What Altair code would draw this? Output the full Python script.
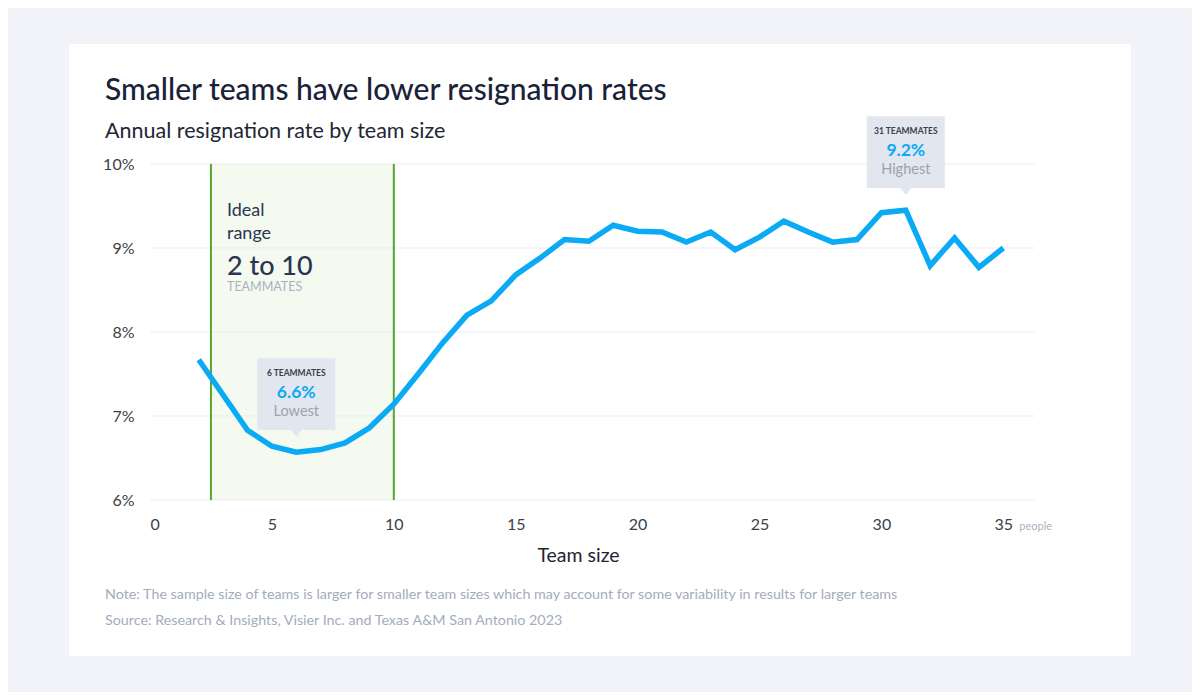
import altair as alt
import pandas as pd

# ---- data ----
team_size = list(range(2, 36))
resign_rate = [7.67, 7.25, 6.83, 6.64, 6.57, 6.60, 6.68, 6.86, 7.14, 7.50, 7.87, 8.20,
               8.37, 8.68, 8.88, 9.10, 9.08, 9.27, 9.20, 9.19, 9.07, 9.19, 8.98, 9.13,
               9.32, 9.19, 9.07, 9.10, 9.42, 9.45, 8.79, 9.12, 8.77, 9.00]
ideal_start, ideal_end = 2.5, 10
x_ticks = [0, 5, 10, 15, 20, 25, 30, 35]
y_ticks = [6, 7, 8, 9, 10]
callout_size = [6, 31]
callout_rate = [6.57, 9.45]
callout_head = ["6 TEAMMATES", "31 TEAMMATES"]
callout_value = ["6.6%", "9.2%"]
callout_word = ["Lowest", "Highest"]
ideal_lines = ["Ideal", "range", "2 to 10", "TEAMMATES"]
title_text = "Smaller teams have lower resignation rates"
subtitle_text = "Annual resignation rate by team size"
notes = ["Note: The sample size of teams is larger for smaller team sizes which may account for some variability in results for larger teams",
         "Source: Research & Insights, Visier Inc. and Texas A&M San Antonio 2023"]

W, H = 885, 336
FONT = "Lato"
BLUE = "#0aaaf5"
GREEN = "#56a630"

line_df = pd.DataFrame({"size": team_size, "rate": resign_rate})
band_df = pd.DataFrame({"start": [ideal_start], "end": [ideal_end]})
edge_df = pd.DataFrame({"edge": [ideal_start, ideal_end]})
grid_df = pd.DataFrame({"g": y_ticks})
call_df = pd.DataFrame({"size": callout_size, "rate": callout_rate, "head": callout_head,
                        "value": callout_value, "word": callout_word})

xs = alt.Scale(domain=[0, 36.3], nice=False, zero=False)
ys = alt.Scale(domain=[6, 10], nice=False, zero=False)


def label(text, x, y, **kw):
    return alt.Chart(pd.DataFrame({"t": [text]})).mark_text(
        font=FONT, align="left", **kw).encode(x=alt.value(x), y=alt.value(y), text="t:N")


card = alt.Chart(pd.DataFrame({"a": [0]})).mark_rect(color="white").encode(
    x=alt.value(-81), x2=alt.value(981), y=alt.value(-120), y2=alt.value(492))

band = alt.Chart(band_df).mark_rect(color="#f4faf0").encode(
    x=alt.X("start:Q", scale=xs), x2="end:Q", y=alt.value(0), y2=alt.value(H))

grid = alt.Chart(grid_df).mark_rule(color="#e9edf2", strokeWidth=1).encode(
    y=alt.Y("g:Q", scale=ys), x=alt.value(0), x2=alt.value(W))

base_axes = alt.Chart(line_df).mark_line(opacity=0).encode(
    x=alt.X("size:Q", scale=xs,
            axis=alt.Axis(values=x_ticks, grid=False, domain=False, ticks=False, zindex=1,
                          labelFont=FONT, labelFontSize=16, labelColor="#3a3f4a",
                          labelPadding=16, title="Team size", titleFont=FONT,
                          titleFontSize=19.5, titleFontWeight="normal", titleColor="#1f2433",
                          titleX=428, titleY=46)),
    y=alt.Y("rate:Q", scale=ys,
            axis=alt.Axis(values=y_ticks, grid=False, domain=False, zindex=1,
                          ticks=False, labelFont=FONT, labelFontSize=16,
                          labelColor="#3a3f4a", labelPadding=16, title=None,
                          labelExpr="datum.value + '%'")))

edges = alt.Chart(edge_df).mark_rule(color=GREEN, strokeWidth=2).encode(
    x=alt.X("edge:Q", scale=xs), y=alt.value(0), y2=alt.value(H))

line = alt.Chart(line_df).mark_line(color=BLUE, strokeWidth=5.5, strokeJoin="miter").encode(
    x=alt.X("size:Q", scale=xs), y=alt.Y("rate:Q", scale=ys))

box_shape = "M-1,-0.92H1V0.92H0.14L0,1.1L-0.14,0.92H-1Z"
boxes = alt.Chart(call_df).mark_point(shape=box_shape, filled=True, size=6084,
                                      color="#e2e7ef", opacity=1).encode(
    x=alt.X("size:Q", scale=xs), y=alt.Y("rate:Q", scale=ys), yOffset=alt.value(-58))

heads = alt.Chart(call_df).mark_text(font=FONT, fontSize=8.5, fontWeight="bold",
                                     color="#3a3f4a", dy=-79).encode(
    x=alt.X("size:Q", scale=xs), y=alt.Y("rate:Q", scale=ys), text="head:N")
values = alt.Chart(call_df).mark_text(font=FONT, fontSize=17.5, fontWeight="bold",
                                      color=BLUE, dy=-59).encode(
    x=alt.X("size:Q", scale=xs), y=alt.Y("rate:Q", scale=ys), text="value:N")
words = alt.Chart(call_df).mark_text(font=FONT, fontSize=14.5, color="#9aa2b0", dy=-40).encode(
    x=alt.X("size:Q", scale=xs), y=alt.Y("rate:Q", scale=ys), text="word:N")

ideal_y = [47, 70, 103, 123]
ideal_fs = [18, 18, 27, 12.5]
ideal_c = ["#2b3550", "#2b3550", "#2b3550", "#aab2c0"]
ideal_w = [400, 400, 500, 400]
ideal_txt = [label(t, 77, yy, fontSize=fs, color=c, baseline="middle", fontWeight=w)
             for t, yy, fs, c, w in zip(ideal_lines, ideal_y, ideal_fs, ideal_c, ideal_w)]

people = alt.Chart(pd.DataFrame({"s": [35], "t": ["people"]})).mark_text(
    font=FONT, fontSize=11, color="#aab2c0", align="left", baseline="middle", dx=16).encode(
    x=alt.X("s:Q", scale=xs), y=alt.value(H + 27), text="t:N")

title = label(title_text, -45, -64, fontSize=30, fontWeight=500, color="#1a2238",
              baseline="alphabetic")
subtitle = label(subtitle_text, -45, -26, fontSize=21.5, color="#222633",
                 baseline="alphabetic")
note1 = label(notes[0], -45, 431, fontSize=14.3, color="#a3acbd", baseline="middle")
note2 = label(notes[1], -45, 457, fontSize=14.3, color="#a3acbd", baseline="middle")

chart = alt.layer(card, band, grid, base_axes, edges, line, boxes, heads, values, words,
                  *ideal_txt, people, title, subtitle, note1, note2).properties(
    width=W, height=H,
    autosize=alt.AutoSizeParams(type="none"),
    padding={"left": 142, "top": 156, "right": 157, "bottom": 192},
    background="#f2f3f8",
).configure_view(stroke=None)

chart.save("out.html", embed_options={"renderer": "svg", "actions": False})
